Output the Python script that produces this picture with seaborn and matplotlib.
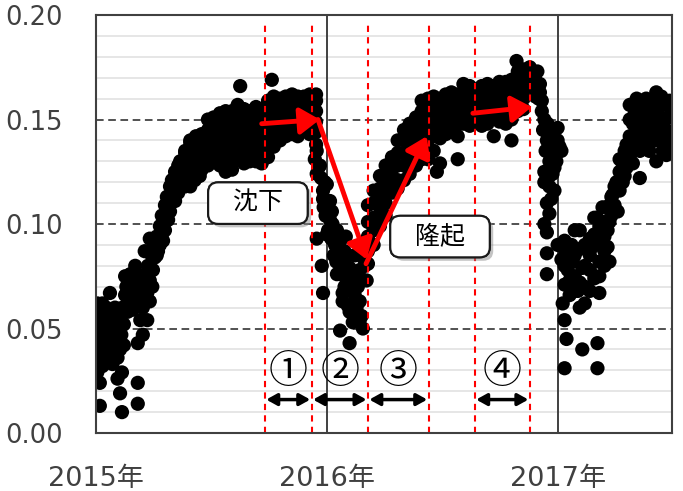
import matplotlib

matplotlib.use("Agg")

import matplotlib.dates as mdates
import matplotlib.patheffects as pe
import matplotlib.pyplot as plt
import numpy as np
import pandas as pd
import seaborn as sns

START = pd.Timestamp("2015-01-01")

# (days since 2015-01-01, value)
EARLY_2015 = [
    (2, 0.062), (22, 0.067), (2, 0.052), (2, 0.041), (2, 0.029), (6, 0.024), (41, 0.029),
    (38, 0.019), (66, 0.024), (6, 0.013), (41, 0.010), (66, 0.014), (66, 0.043), (34, 0.026),
    (6, 0.045), (6, 0.036), (10, 0.050), (12, 0.040), (14, 0.056), (14, 0.046), (18, 0.035),
    (20, 0.052), (22, 0.043), (24, 0.058), (26, 0.048), (28, 0.038), (30, 0.054), (32, 0.044),
    (36, 0.050), (38, 0.040), (40, 0.047), (44, 0.052), (16, 0.060), (30, 0.060), (10, 0.032),
    (26, 0.033), (34, 0.036), (44, 0.042),
    (2, 0.057), (4, 0.048), (8, 0.041), (12, 0.053), (16, 0.050), (18, 0.044), (22, 0.038),
    (24, 0.050), (28, 0.046), (32, 0.052), (34, 0.058), (38, 0.056), (42, 0.060), (46, 0.058),
    (20, 0.058), (10, 0.062),
]
RISE_2015 = [
    (46, 0.075), (54, 0.076), (62, 0.068), (51, 0.063), (58, 0.059), (70, 0.063), (77, 0.070),
    (70, 0.054), (81, 0.054), (74, 0.047), (85, 0.073), (85, 0.063), (82, 0.080), (77, 0.087),
    (62, 0.080), (54, 0.068), (46, 0.066), (85, 0.093), (101, 0.095), (93, 0.084),
    (88, 0.085), (93, 0.090), (96, 0.094), (101, 0.099), (104, 0.104), (109, 0.109), (112, 0.113),
    (117, 0.118), (120, 0.121), (125, 0.125), (130, 0.128), (133, 0.130), (141, 0.134),
    (149, 0.139), (156, 0.140), (98, 0.087), (106, 0.092), (109, 0.097), (114, 0.102),
    (117, 0.106), (125, 0.111), (130, 0.115), (141, 0.118), (149, 0.120), (156, 0.121), (164, 0.123),
    (90, 0.078), (96, 0.085), (101, 0.090), (104, 0.095), (109, 0.102), (114, 0.108),
    (120, 0.113), (122, 0.117), (128, 0.120), (136, 0.124), (144, 0.128), (152, 0.130),
    (66, 0.074), (58, 0.070), (74, 0.060), (81, 0.067), (89, 0.070),
    (50, 0.058), (54, 0.062), (60, 0.064), (66, 0.068), (72, 0.072), (78, 0.076),
    (48, 0.070), (58, 0.074),
]
PLATEAU_2015 = [
    (141, 0.135), (141, 0.130), (141, 0.125), (141, 0.120),
    (149, 0.140), (149, 0.135), (149, 0.130), (149, 0.124), (149, 0.118),
    (158, 0.142), (158, 0.136), (158, 0.128), (158, 0.123),
    (167, 0.143), (167, 0.139), (167, 0.132), (167, 0.126),
    (177, 0.150), (177, 0.145), (177, 0.140), (177, 0.134), (177, 0.128),
    (186, 0.151), (186, 0.147), (186, 0.142), (186, 0.136), (186, 0.130),
    (196, 0.153), (196, 0.148), (196, 0.143), (196, 0.139), (196, 0.132), (196, 0.128),
    (205, 0.154), (205, 0.149), (205, 0.144), (205, 0.140), (205, 0.135), (205, 0.130), (205, 0.125),
    (215, 0.154), (215, 0.149), (215, 0.144), (215, 0.139), (215, 0.132), (215, 0.126),
    (224, 0.157), (224, 0.151), (224, 0.147), (224, 0.142), (224, 0.137), (224, 0.131),
    (234, 0.155), (234, 0.150), (234, 0.145), (234, 0.140), (234, 0.135), (234, 0.129),
    (243, 0.154), (243, 0.149), (243, 0.144), (243, 0.140), (243, 0.135), (243, 0.130),
    (253, 0.156), (253, 0.151), (253, 0.147), (253, 0.142), (253, 0.136), (253, 0.130),
    (262, 0.155), (262, 0.150), (262, 0.146), (262, 0.141), (262, 0.135), (262, 0.129),
    (228, 0.166),
]
LATE_2015 = [
    (272, 0.159), (272, 0.154), (272, 0.149), (272, 0.144), (272, 0.140), (272, 0.132),
    (281, 0.161), (281, 0.156), (281, 0.151), (281, 0.147), (281, 0.142), (281, 0.137),
    (291, 0.160), (291, 0.155), (291, 0.150), (291, 0.145), (291, 0.140),
    (300, 0.161), (300, 0.156), (300, 0.151), (300, 0.147), (300, 0.142),
    (310, 0.162), (310, 0.157), (310, 0.152), (310, 0.148), (310, 0.143),
    (319, 0.161), (319, 0.156), (319, 0.151), (319, 0.147), (319, 0.142),
    (329, 0.161), (329, 0.156), (329, 0.151), (329, 0.147),
    (338, 0.162), (338, 0.158), (338, 0.153), (338, 0.148), (338, 0.143),
    (348, 0.162), (348, 0.159), (348, 0.154), (348, 0.149), (348, 0.144), (348, 0.138),
    (278, 0.169),
]
DROP_2016 = [
    (349, 0.135), (346, 0.131), (354, 0.128), (349, 0.124), (362, 0.120), (365, 0.119),
    (359, 0.116), (359, 0.112), (367, 0.109), (373, 0.106), (370, 0.102), (374, 0.100),
    (381, 0.097), (365, 0.095), (349, 0.093), (386, 0.092), (378, 0.090), (386, 0.087),
    (398, 0.085), (393, 0.081), (357, 0.080), (401, 0.079), (381, 0.076), (409, 0.075),
    (401, 0.073), (393, 0.070), (414, 0.070), (359, 0.067), (390, 0.067), (409, 0.066),
    (390, 0.063), (412, 0.060), (401, 0.058), (420, 0.056), (417, 0.054), (406, 0.053),
    (386, 0.049), (422, 0.050), (401, 0.043), (425, 0.080), (428, 0.073), (422, 0.084),
    (417, 0.063), (425, 0.087), (370, 0.111), (378, 0.094), (393, 0.087), (409, 0.085),
    (417, 0.078), (386, 0.082), (398, 0.061), (404, 0.068), (393, 0.075),
    (352, 0.127), (356, 0.122), (360, 0.108), (363, 0.104), (367, 0.097), (372, 0.093),
    (376, 0.085), (380, 0.082), (395, 0.094),
]
RISE_2016 = [
    (430, 0.109), (430, 0.101), (430, 0.094), (430, 0.087), (430, 0.081),
    (439, 0.116), (439, 0.110), (439, 0.103), (439, 0.097), (439, 0.090),
    (449, 0.123), (449, 0.117), (449, 0.111), (449, 0.105), (449, 0.099),
    (458, 0.128), (458, 0.121), (458, 0.116), (458, 0.110), (458, 0.104),
    (468, 0.132), (468, 0.126), (468, 0.120), (468, 0.115),
    (477, 0.140), (477, 0.134), (477, 0.128), (477, 0.121), (477, 0.117),
    (487, 0.145), (487, 0.140), (487, 0.134), (487, 0.128), (487, 0.121),
    (496, 0.148), (496, 0.142), (496, 0.137), (496, 0.131), (496, 0.124),
    (506, 0.151), (506, 0.145), (506, 0.140), (506, 0.134), (506, 0.128),
    (515, 0.159), (515, 0.154), (515, 0.148), (515, 0.142), (515, 0.137), (515, 0.131),
    (525, 0.160), (525, 0.155), (525, 0.149), (525, 0.143), (525, 0.137), (525, 0.131),
]
PLATEAU_2016 = [
    (534, 0.161), (534, 0.156), (534, 0.151), (534, 0.147), (534, 0.142), (534, 0.135),
    (544, 0.160), (544, 0.155), (544, 0.150), (544, 0.146), (544, 0.141), (544, 0.129),
    (553, 0.162), (553, 0.157), (553, 0.152), (553, 0.148), (553, 0.143),
    (562, 0.163), (562, 0.159), (562, 0.154), (562, 0.149), (562, 0.144),
    (572, 0.162), (572, 0.157), (572, 0.152), (572, 0.148), (572, 0.142), (572, 0.131),
    (581, 0.167), (581, 0.162), (581, 0.157), (581, 0.152), (581, 0.148),
    (591, 0.166), (591, 0.161), (591, 0.156), (591, 0.151), (591, 0.147),
    (600, 0.163), (600, 0.159), (600, 0.154), (600, 0.149),
    (610, 0.166), (610, 0.161), (610, 0.156), (610, 0.151), (610, 0.147),
    (619, 0.167), (619, 0.162), (619, 0.158), (619, 0.153), (619, 0.148),
    (629, 0.166), (629, 0.161), (629, 0.156), (629, 0.151), (629, 0.142),
    (638, 0.168), (638, 0.163), (638, 0.159), (638, 0.154), (638, 0.149),
    (648, 0.168), (648, 0.163), (648, 0.159), (648, 0.154), (648, 0.148),
    (657, 0.169), (657, 0.164), (657, 0.160), (657, 0.155), (657, 0.150), (657, 0.140),
    (667, 0.173), (667, 0.168), (667, 0.163), (667, 0.159), (667, 0.154),
    (676, 0.174), (676, 0.169), (676, 0.164), (676, 0.160), (676, 0.155),
    (665, 0.178), (681, 0.171), (539, 0.125),
]
DROP_2017 = [
    (686, 0.175), (694, 0.170), (698, 0.173), (702, 0.163), (702, 0.167), (705, 0.159),
    (705, 0.154), (709, 0.150), (714, 0.148), (720, 0.145), (730, 0.146), (727, 0.140),
    (733, 0.137), (736, 0.135), (725, 0.135), (722, 0.130), (725, 0.127), (709, 0.125),
    (717, 0.123), (709, 0.120), (725, 0.116), (717, 0.118), (709, 0.100), (713, 0.096),
    (713, 0.086), (713, 0.076), (689, 0.166), (695, 0.161),
    (713, 0.140), (717, 0.130), (720, 0.135), (722, 0.124), (728, 0.130), (730, 0.140),
    (713, 0.110), (717, 0.105), (700, 0.160), (707, 0.145), (711, 0.135), (720, 0.112),
]
RISE_2017 = [
    (736, 0.090), (746, 0.084), (757, 0.097), (738, 0.089), (754, 0.082), (749, 0.073),
    (769, 0.079), (785, 0.089), (796, 0.082), (765, 0.097), (738, 0.062), (765, 0.060),
    (796, 0.067), (812, 0.082), (741, 0.054), (744, 0.045), (769, 0.040), (793, 0.043),
    (741, 0.031), (793, 0.031), (788, 0.103), (741, 0.071), (757, 0.075), (773, 0.070),
    (781, 0.078), (762, 0.068), (746, 0.078), (781, 0.085), (804, 0.087), (773, 0.090),
    (752, 0.090), (804, 0.094), (792, 0.103), (801, 0.108), (812, 0.101), (817, 0.114),
    (820, 0.109), (823, 0.120), (828, 0.116), (833, 0.129), (836, 0.123), (839, 0.138),
    (841, 0.132), (849, 0.148), (844, 0.142), (844, 0.157), (855, 0.160), (860, 0.151),
    (867, 0.147), (875, 0.154), (883, 0.159), (886, 0.163), (891, 0.149), (896, 0.135),
    (886, 0.130), (860, 0.122), (849, 0.129), (867, 0.140), (875, 0.144), (883, 0.140),
    (891, 0.156), (899, 0.159), (904, 0.151), (907, 0.144), (899, 0.140), (860, 0.135),
    (852, 0.137), (815, 0.104), (809, 0.097), (796, 0.092), (828, 0.125), (812, 0.109),
    (875, 0.135), (907, 0.159), (736, 0.083), (781, 0.068), (730, 0.090), (867, 0.156),
    (894, 0.161),
    (741, 0.092), (741, 0.080), (749, 0.088), (749, 0.066), (757, 0.085), (757, 0.068),
    (765, 0.088), (765, 0.072), (773, 0.080), (773, 0.062), (781, 0.093), (788, 0.074),
    (788, 0.095), (796, 0.099), (796, 0.075), (804, 0.101), (804, 0.080), (809, 0.089),
    (815, 0.113), (820, 0.118), (825, 0.106), (828, 0.131), (833, 0.120), (836, 0.135),
    (839, 0.127), (844, 0.132), (844, 0.150), (849, 0.140), (852, 0.153), (855, 0.145),
    (860, 0.143), (860, 0.158), (865, 0.150), (870, 0.160), (878, 0.150), (880, 0.143),
    (886, 0.152), (891, 0.140), (896, 0.150), (899, 0.146), (904, 0.157), (907, 0.151),
    (907, 0.137), (902, 0.133), (886, 0.145), (875, 0.148),
]

PERIOD_EDGES = ["2015-09-25", "2015-12-08", "2016-03-06", "2016-06-10", "2016-08-22", "2016-11-17"]
PERIOD_LABELS = ["①", "②", "③", "④"]
PERIOD_SPANS = [(0, 1), (1, 2), (2, 3), (4, 5)]
YEAR_TICKS = ["2015-01-01", "2016-01-01", "2017-01-01"]
YEAR_LABELS = ["2015年", "2016年", "2017年"]
Y_TICKS = [0.00, 0.05, 0.10, 0.15, 0.20]
X_END = "2017-06-30"

INK = "#404040"
CJK = ["Noto Sans CJK JP", "DejaVu Sans"]


def to_num(day):
    return mdates.date2num(START + pd.Timedelta(days=day))


def dnum(text):
    return mdates.date2num(pd.Timestamp(text))


sns.set_style("white")
plt.rcParams["font.family"] = ["DejaVu Sans", "Noto Sans CJK JP"]

segments = [EARLY_2015, RISE_2015, PLATEAU_2015, LATE_2015, DROP_2016,
            RISE_2016, PLATEAU_2016, DROP_2017, RISE_2017]
df = pd.DataFrame([p for seg in segments for p in seg], columns=["day", "value"])
df["date"] = [to_num(d) for d in df["day"]]

fig = plt.figure(figsize=(6.83, 4.91), dpi=100)
ax = fig.add_axes([0.1406, 0.1181, 0.8434, 0.8513])

# background grid: light minor lines, dashed black at 0.05 steps
for v in np.arange(0.01, 0.20, 0.01):
    if abs(v / 0.05 - round(v / 0.05)) < 1e-6:
        ax.axhline(v, color="#222222", lw=1.1, ls=(0, (5, 3)), zorder=1)
    else:
        ax.axhline(v, color="#e4e4e4", lw=1.3, zorder=0.5)

for y in YEAR_TICKS[1:]:
    ax.axvline(dnum(y), color=INK, lw=1.4, zorder=1.5)

sns.scatterplot(data=df, x="date", y="value", s=105, color="black", edgecolor="none",
                linewidth=0, legend=False, ax=ax, zorder=3)

edges = [dnum(e) for e in PERIOD_EDGES]
for e in edges:
    ax.axvline(e, ymin=0, ymax=0.98, color="#ff0000", lw=1.5, ls=(0, (3, 2.5)), zorder=4)

for label, (a, b) in zip(PERIOD_LABELS, PERIOD_SPANS):
    ax.annotate("", xy=(edges[b], 0.016), xytext=(edges[a], 0.016),
                arrowprops=dict(arrowstyle="<|-|>,head_length=0.45,head_width=0.25",
                                color="black", lw=2.5, mutation_scale=14,
                                shrinkA=1, shrinkB=1), zorder=5)
    ax.text((edges[a] + edges[b]) / 2, 0.029, label, family=CJK, fontsize=28,
            ha="center", va="center", color="black", zorder=5)

# red trend arrows
trend = [((262, 0.148), (354, 0.150)), ((351, 0.150), (428, 0.083)),
         ((427, 0.081), (523, 0.142)), ((596, 0.153), (689, 0.156))]
for (d0, v0), (d1, v1) in trend:
    ax.annotate("", xy=(to_num(d1), v1), xytext=(to_num(d0), v0),
                arrowprops=dict(arrowstyle="-|>,head_length=0.6,head_width=0.4",
                                color="#ff0000", lw=3.5, mutation_scale=20,
                                shrinkA=0, shrinkB=0), zorder=6)

for txt, day, val in [("沈下", 256, 0.110), ("隆起", 544, 0.094)]:
    t = ax.text(to_num(day), val, "  " + txt + "  ", family=["DejaVu Sans", "Noto Sans CJK JP"],
                fontsize=18, ha="center", va="center", color="black", zorder=7,
                bbox=dict(boxstyle="round,pad=0.35,rounding_size=0.4", fc="white",
                          ec="#1a1a1a", lw=1.5))
    t.get_bbox_patch().set_path_effects([
        pe.withSimplePatchShadow(offset=(2.5, -2.5), shadow_rgbFace="#888888", alpha=0.5),
        pe.Normal(),
    ])

ax.set_xlim(to_num(0), dnum(X_END))
ax.set_ylim(0, 0.20)
ax.set_yticks(Y_TICKS, labels=[f"{v:.2f}" for v in Y_TICKS])
ax.set_yticks(np.arange(0, 0.2001, 0.01), minor=True)
ax.set_xticks([dnum(y) for y in YEAR_TICKS], labels=YEAR_LABELS)
minor_x = pd.date_range("2015-03-01", "2017-05-01", freq="2MS")
ax.set_xticks(mdates.date2num(minor_x), minor=True)

ax.tick_params(axis="both", which="both", direction="in", color=INK, width=1.0,
               labelcolor=INK)
ax.tick_params(axis="y", which="both", length=5, pad=24, labelsize=18.5)
ax.tick_params(axis="x", which="both", length=7, pad=24, labelsize=19.5)
ax.set_xlabel("")
ax.set_ylabel("")
for side in ["left", "right", "top", "bottom"]:
    ax.spines[side].set_visible(True)
    ax.spines[side].set_color(INK)
    ax.spines[side].set_linewidth(1.5)
    ax.spines[side].set_zorder(8)

fig.savefig("out.png", dpi=100)
